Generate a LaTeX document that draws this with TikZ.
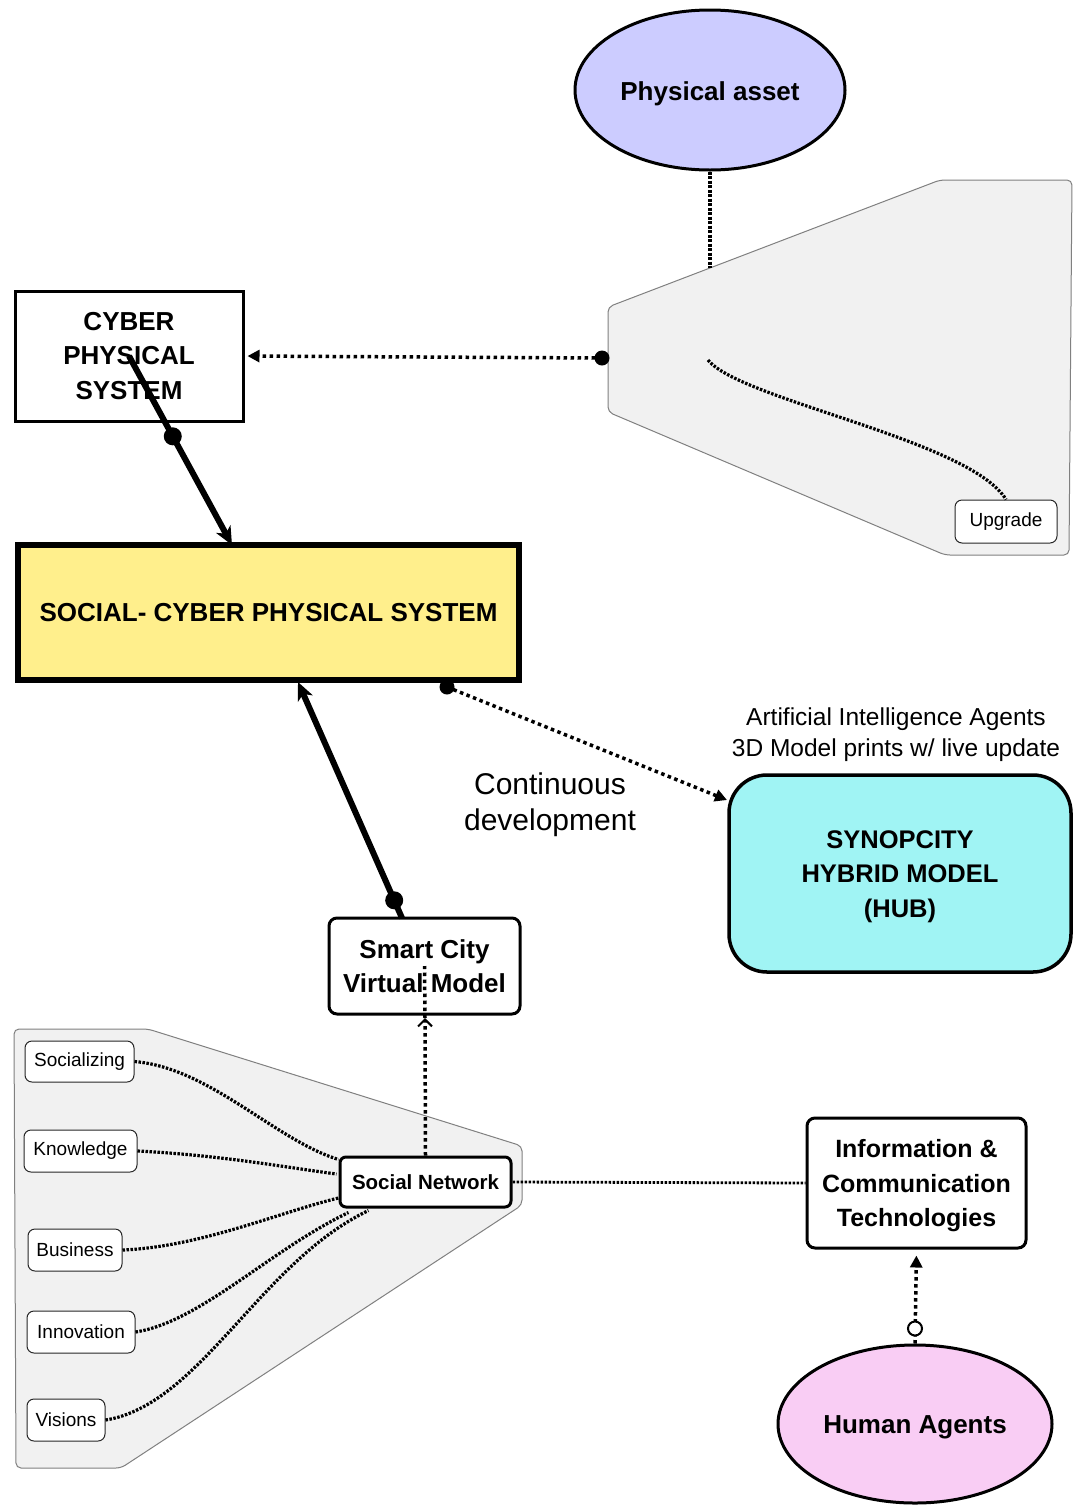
\documentclass[tikz,border=0pt]{standalone}
\usepackage{fontspec}
\setmainfont{Liberation Sans}
\usetikzlibrary{arrows.meta,shapes.geometric,calc}

\definecolor{lavender}{HTML}{CCCCFF}
\definecolor{scpsyellow}{HTML}{FFEF8C}
\definecolor{hubcyan}{HTML}{A0F4F4}
\definecolor{humanpink}{HTML}{F9CDF4}
\definecolor{panelfill}{HTML}{F1F1F1}
\definecolor{panelline}{HTML}{808080}

\begin{document}
\begin{tikzpicture}[x=1pt,y=-1pt,
  bold/.style={font=\bfseries\fontsize{26}{34.5}\selectfont},
  box/.style={draw, line width=3pt, fill=white, align=center, inner sep=0pt, bold},
  rbox/.style={box, rounded corners=8pt},
  txt/.style={align=center, inner sep=0pt},
  item/.style={draw=black!85, line width=1pt, rounded corners=7pt, fill=white,
    inner sep=0pt, font=\fontsize{19}{22}\selectfont},
  panel/.style={fill=panelfill, draw=panelline, line width=1pt, rounded corners=5pt},
  heavy/.style={line width=6pt},
  dotA/.style={line width=3.5pt, dash pattern=on 3.5pt off 3.5pt},
  dotB/.style={line width=3.2pt, dash pattern=on 2.5pt off 1.5pt},
  oval/.style={ellipse, draw, line width=3pt, inner sep=0pt,
    minimum width=270pt, minimum height=160pt},
  tipT/.style={-{Triangle[length=12pt,width=12pt]}},
  tipH/.style={-{Stealth[length=18pt,width=16pt,inset=5pt]}}
]
\useasboundingbox[fill=white] (0,0) rectangle (1079,1505);

% grey panels
\coordinate (pa1) at (608,307);
\coordinate (pa2) at (940,180);
\coordinate (pa3) at (1072,180);
\coordinate (pa4) at (1069,555);
\coordinate (pa5) at (945,555);
\coordinate (pa6) at (608,412);
\draw[panel] (pa1) -- (pa2) -- (pa3) -- (pa4) -- (pa5) -- (pa6) -- cycle;

\coordinate (pb1) at (14,1029);
\coordinate (pb2) at (148,1029);
\coordinate (pb3) at (522,1146);
\coordinate (pb4) at (522,1205);
\coordinate (pb5) at (121,1468);
\coordinate (pb6) at (16,1468);
\draw[panel] (pb1) -- (pb2) -- (pb3) -- (pb4) -- (pb5) -- (pb6) -- cycle;

% nodes
\node[oval, fill=lavender] (pa) at (710,90) {};
\node[txt, bold] (paT) at ($(pa.center)+(0,4)$) {Physical asset};
\node[oval, fill=humanpink, minimum width=274pt, minimum height=158pt] (ha) at (915,1424) {};
\node[txt, bold] (haT) at ($(ha.center)+(0,3)$) {Human Agents};

\node[box, minimum width=228pt, minimum height=130pt] (cps) at (129,356) {CYBER\\PHYSICAL\\SYSTEM};
\node[box, fill=scpsyellow, line width=6pt, minimum width=501pt, minimum height=135pt] (scps) at (268.5,612.5)
  {SOCIAL- CYBER PHYSICAL SYSTEM};
\node[box, fill=hubcyan, rounded corners=38pt, line width=3.5pt, minimum width=342pt, minimum height=197pt] (hub)
  at (900,873.5) {};
\node[txt, font=\bfseries\fontsize{25.5}{34.5}\selectfont] (hubT) at ($(hub.center)+(0,3)$)
  {SYNOPCITY\\HYBRID MODEL\\(HUB)};
\node[rbox, minimum width=191pt, minimum height=96pt] (smart) at (424.5,966) {Smart City\\Virtual Model};
\node[rbox, minimum width=219pt, minimum height=130pt] (ict) at (916.5,1183) {};
\node[txt, font=\bfseries\fontsize{25}{34.5}\selectfont] (ictT) at ($(ict.center)+(0,3)$)
  {Information \&\\Communication\\Technologies};
\node[rbox, rounded corners=6pt, minimum width=171pt, minimum height=50pt,
  font=\bfseries\fontsize{20.5}{24}\selectfont] (sn) at (425.5,1182) {Social Network};

\node[item, minimum width=102pt, minimum height=43pt] (upg) at (1006,521.5) {Upgrade};
\node[item, minimum width=109pt, minimum height=41pt] (soc) at (79.5,1061.5) {Socializing};
\node[item, minimum width=113pt, minimum height=42pt] (know) at (80.5,1151) {Knowledge};
\node[item, minimum width=94pt, minimum height=42pt] (bus) at (75,1250) {Business};
\node[item, minimum width=108pt, minimum height=42pt] (inno) at (81,1332) {Innovation};
\node[item, minimum width=78pt, minimum height=42pt] (vis) at (66,1420) {Visions};

\node[txt, font=\fontsize{24.5}{31}\selectfont] (ailabel) at (896,735)
  {Artificial Intelligence Agents\\3D Model prints w/ live update};
\node[txt, font=\fontsize{30}{36}\selectfont] (cdlabel) at (550,805)
  {Continuous\\development};

% physical asset to the upgrade panel
\coordinate (paFoot) at (710,268);
\draw[dotB, dash pattern=on 3pt off 1.5pt] (pa.south) -- (paFoot);

% upgrade path inside the panel
\coordinate (upStart) at (708,360);
\draw[dotB] (upStart) .. controls (740,400) and (970,440) .. (upg.north);

% panel to cyber physical system
\coordinate (panelDot) at (602,358);
\draw[dotA, tipT, shorten >=3pt] (panelDot) -- (cps.east);
\fill (panelDot) circle (7.5);

% cyber physical system to S-CPS
\coordinate (scpsIn) at (232,545);
\draw[heavy, tipH] (cps.center) -- (scpsIn);
\fill ($(cps.center)!0.425!(scpsIn)$) circle (9);

% smart city model to S-CPS
\coordinate (smartOut) at (402,918);
\coordinate (scpsUp) at (298,682);
\draw[heavy, tipH] (smartOut) -- (scpsUp);
\fill ($(smartOut)!0.075!(scpsUp)$) circle (9);

% S-CPS to hub
\coordinate (scpsDot) at (447,687);
\coordinate (hubIn) at (727,800);
\draw[dotA, tipT] (scpsDot) -- (hubIn);
\fill (scpsDot) circle (7.5);

% social network up to the smart city model
\coordinate (smartTip) at (425,1018);
\draw[dotA, -{Straight Barb[length=7pt,width=14pt,line width=2pt]}] (sn.north) -- (smartTip);
\draw[dotA] (smartTip) -- (smart.center);

% social network to ICT
\draw[dotB, line width=2.8pt] (sn.east) -- (ict.west);

% human agents to ICT
\coordinate (haDot) at ($(ha.north)+(0,-15)$);
\draw[dotA, tipT, shorten >=6pt] (ha.north) -- (ict.south);
\draw[line width=2pt, fill=white] (haDot) circle (7);

% themes feeding the social network
\draw[dotB] (soc.east) .. controls (210,1068) and (275,1140) .. ($(sn.north west)+(0,4)$);
\draw[dotB] (know.east) .. controls (220,1155) and (290,1168) .. ($(sn.west)+(-2,-8)$);
\draw[dotB] (bus.east) .. controls (200,1247) and (280,1212) .. ($(sn.west)+(0,16)$);
\draw[dotB] (inno.east) .. controls (200,1322) and (270,1250) .. ($(sn.south west)+(10,4)$);
\draw[dotB] (vis.east) .. controls (200,1405) and (260,1262) .. ($(sn.south west)+(30,2)$);

\end{tikzpicture}
\end{document}
